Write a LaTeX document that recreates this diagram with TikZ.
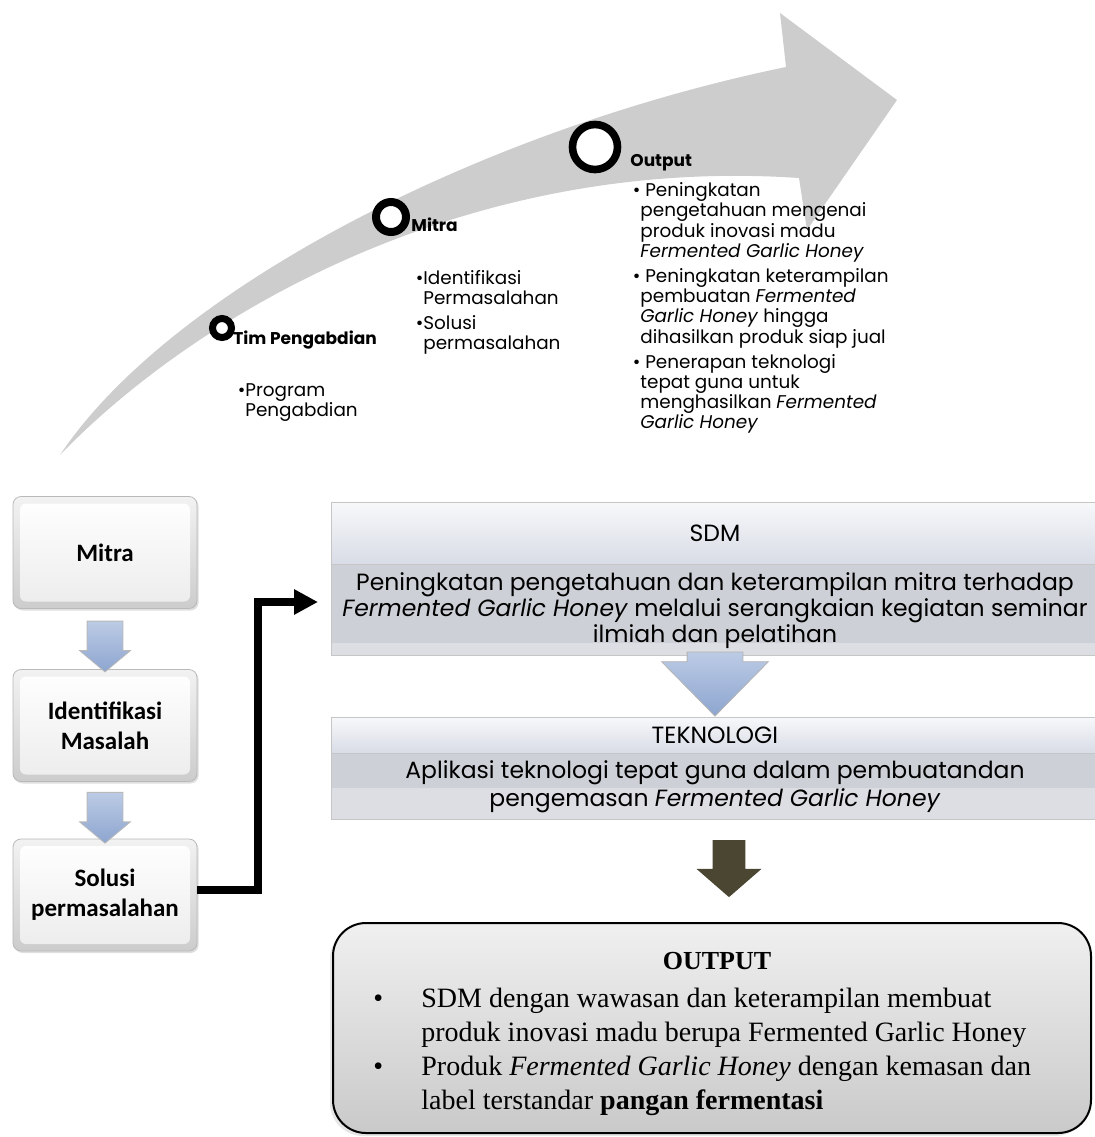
\documentclass[tikz,border=0pt]{standalone}
\usepackage{fontspec}
\setmainfont{Liberation Serif}
\newfontfamily\gothic{Poppins}
\newfontfamily\calib{Carlito}
\usepackage{tikz}
\usetikzlibrary{shapes,arrows.meta,positioning,calc,shadows}
\definecolor{swoosh}{HTML}{CDCDCD}
\definecolor{hdrtop}{HTML}{F7F8FA}
\definecolor{hdrbot}{HTML}{D8DCE6}
\definecolor{bodygray}{HTML}{CED0D7}
\definecolor{stripgray}{HTML}{DDDEE3}
\definecolor{paletop}{HTML}{BCCBE5}
\definecolor{palebot}{HTML}{8DA5CF}
\definecolor{olive}{HTML}{4B4631}
\tikzstyle{ring} = [circle, draw=black, fill=white, inner sep=0pt, drop shadow={shadow xshift=0.6pt, shadow yshift=-1.2pt, opacity=0.3}]
\tikzstyle{stagelbl} = [anchor=base west, inner sep=0pt, font=\gothic\bfseries\fontsize{8.5}{10}\selectfont]
\tikzstyle{stagetxt} = [anchor=north west, inner sep=0pt, align=left, font=\gothic\fontsize{9.2}{10.15}\selectfont]
\tikzstyle{stepbox} = [rectangle, rounded corners=4pt, draw=gray!55, top color=gray!10, bottom color=gray!40, minimum width=92pt, minimum height=56pt, align=center, font=\calib\bfseries\fontsize{12.5}{15}\selectfont, drop shadow={shadow xshift=0.8pt, shadow yshift=-1pt, opacity=0.25}, path picture={\shade[top color=white, bottom color=gray!15, rounded corners=3pt] ($(path picture bounding box.north west)+(7,7)$) rectangle ($(path picture bounding box.south east)+(-7,-7)$);}]
\tikzstyle{downarrow} = [single arrow, shape border rotate=270, draw=gray!55, top color=paletop, bottom color=palebot, inner sep=8.75pt, minimum width=25pt, single arrow head extend=3.75pt, single arrow tip angle=100, minimum height=21pt]
\tikzstyle{bigarrow} = [single arrow, shape border rotate=270, draw=gray!60, top color=paletop, bottom color=palebot, inner xsep=13.75pt, inner ysep=0pt, minimum width=53pt, single arrow head extend=12.75pt, single arrow tip angle=89, minimum height=32pt]
\tikzstyle{darkarrow} = [single arrow, shape border rotate=270, fill=olive, inner sep=8pt, minimum width=32pt, single arrow head extend=8pt, single arrow tip angle=98, minimum height=28.5pt]
\tikzstyle{bandhead} = [rectangle, draw=gray!45, top color=hdrtop, bottom color=hdrbot, minimum width=384pt, font=\gothic\fontsize{11.75}{13}\selectfont]
\tikzset{bandbody/.style={rectangle, draw=gray!45, fill=bodygray, minimum width=384pt, align=center, font=\gothic\fontsize{11.75}{#1}\selectfont}}
\tikzset{strip/.style={path picture={\fill[stripgray] ($(path picture bounding box.south west)+(0,-#1)$) rectangle (path picture bounding box.south east);}}}
\tikzstyle{link} = [line width=4pt, -{Triangle[length=12pt,width=12pt]}]
\tikzstyle{outbox} = [rectangle, rounded corners=16.5pt, draw=black, line width=1pt, top color=gray!12, bottom color=gray!42, minimum width=379pt, minimum height=105pt, drop shadow={shadow xshift=-1.5pt, shadow yshift=-1.5pt, opacity=0.2}]

\begin{document}
\begin{tikzpicture}[x=0.5pt, y=-0.5pt]
    \useasboundingbox (0,0) rectangle (1095,1137);

    % curved arrow
    \fill[swoosh] (60,455) .. controls (170,290) and (480,130) .. (786,67) -- (780,13) -- (897,100) -- (807,230) -- (799,178) .. controls (460,155) and (190,320) .. (60,455) -- cycle;

    \node[stagetxt] (timtxt) at (245,383) {\llap{\textbullet}Program\\Pengabdian};
    \node[stagetxt] (mitratxt) at (423,270) {\llap{\textbullet}Identifikasi\\Permasalahan\\[2pt]\llap{\textbullet}Solusi\\permasalahan};
    \node[stagetxt] (outtxt) at (640,182) {\llap{\textbullet}\ Peningkatan\\pengetahuan mengenai\\produk inovasi madu\\\textit{Fermented Garlic Honey}\\[2.3pt]%
        \llap{\textbullet}\ Peningkatan keterampilan\\pembuatan \textit{Fermented}\\\textit{Garlic Honey} hingga\\dihasilkan produk siap jual\\[2.3pt]%
        \llap{\textbullet}\ Penerapan teknologi\\tepat guna untuk\\menghasilkan \textit{Fermented}\\\textit{Garlic Honey}};

    \node[ring, minimum size=9.5pt, line width=3.5pt] (timring) at (222,328) {};
    \node[ring, minimum size=15pt, line width=4pt] (mitraring) at (391,217) {};
    \node[ring, minimum size=22.5pt, line width=3.8pt] (outring) at (595,147) {};
    \node[stagelbl] (timlbl) at (233,344) {Tim Pengabdian};
    \node[stagelbl] (mitralbl) at (411,231) {Mitra};
    \node[stagelbl] (outlbl) at (630,166) {Output};

    % left column
    \node[stepbox] (mitra) at (105,552.5) {Mitra};
    \node[stepbox] (ident) at (105,725.5) {Identifikasi\\Masalah};
    \node[stepbox] (solusi) at (105,895) {Solusi\\permasalahan};
    \node[downarrow] (a1) at ($(mitra.south)!0.5!(ident.north)$) {};
    \node[downarrow] (a2) at ($(ident.south)!0.5!(solusi.north)$) {};

    \coordinate (sdmin) at (318,602);
    \draw[link] ([yshift=2.5pt]solusi.east) -- ++(61,0) |- (sdmin);

    % SDM and TEKNOLOGI
    \node[bandhead, minimum height=31pt] (sdmhead) at (715,533) {SDM};
    \node[bandbody=13pt, strip=13, minimum height=45.5pt, below=0pt of sdmhead] (sdmbody) {Peningkatan pengetahuan dan keterampilan mitra terhadap\\\textit{Fermented Garlic Honey} melalui serangkaian kegiatan seminar\\ilmiah dan pelatihan};
    \node[bandhead, minimum height=18pt] (tekhead) at (715,735) {TEKNOLOGI};
    \node[bandbody=14pt, strip=31, minimum height=32.5pt, below=0pt of tekhead] (tekbody) {Aplikasi teknologi tepat guna dalam pembuatandan\\pengemasan \textit{Fermented Garlic Honey}};
    \node[bigarrow, anchor=tip] (a3) at (tekhead.north) {};
    \node[darkarrow] (a4) at (729,861.5) {};

    % output
    \node[outbox] (outbox) at (712,1028) {};
    \node[font=\bfseries\fontsize{13}{16}\selectfont] (outttl) at (717,961) {OUTPUT};
    \node[anchor=north west, inner sep=0pt, font=\fontsize{14}{17}\selectfont] (outlist) at (373,983) {%
        \begin{tabular}{@{}p{24pt}@{}l@{}}
        \textbullet & SDM dengan wawasan dan keterampilan membuat\\
         & produk inovasi madu berupa Fermented Garlic Honey\\
        \textbullet & Produk \textit{Fermented Garlic Honey} dengan kemasan dan\\
         & label terstandar \textbf{pangan fermentasi}
        \end{tabular}};
\end{tikzpicture}
\end{document}
